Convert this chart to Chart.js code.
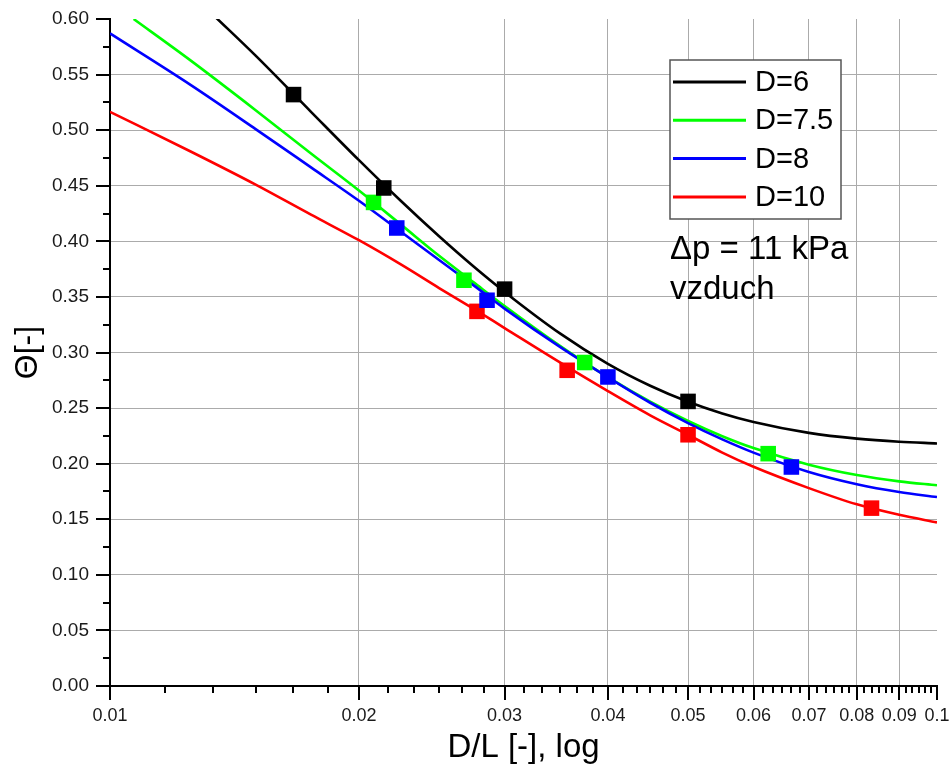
<!DOCTYPE html>
<html>
<head>
<meta charset="utf-8">
<title>Theta vs D/L</title>
<script src="https://cdn.jsdelivr.net/npm/chart.js@4.4.0/dist/chart.umd.min.js"></script>
<style>
  html, body { margin: 0; padding: 0; background: #fff; }
  canvas { display: block; }
</style>
</head>
<body>
<canvas id="chart" width="949" height="778"></canvas>
<script>
'use strict'

var FONT = 'Liberation Sans, Arial, Helvetica, sans-serif';

var seriesLabels = ['D=6', 'D=7.5', 'D=8', 'D=10'];
var seriesColors = ['#000000', '#00ff00', '#0000ff', '#ff0000'];

// measured points (squares)
var d6X = [0.01667, 0.02143, 0.03, 0.05];
var d6Y = [0.532, 0.448, 0.357, 0.256];
var d75X = [0.02083, 0.02679, 0.0375, 0.0625];
var d75Y = [0.435, 0.365, 0.291, 0.209];
var d8X = [0.02222, 0.02857, 0.04, 0.06667];
var d8Y = [0.412, 0.347, 0.278, 0.197];
var d10X = [0.02778, 0.03571, 0.05, 0.08333];
var d10Y = [0.337, 0.284, 0.226, 0.160];

// fitted curves
var fit6X = [0.0134, 0.015, 0.0175, 0.02, 0.0225, 0.025, 0.0275, 0.03, 0.035, 0.04, 0.045, 0.05, 0.055, 0.06, 0.07, 0.08, 0.09, 0.1];
var fit6Y = [0.602, 0.567, 0.5165, 0.473, 0.436, 0.4045, 0.3775, 0.3545, 0.3172, 0.2898, 0.2701, 0.2557, 0.2452, 0.2375, 0.2277, 0.2225, 0.2197, 0.2182];
var fit75X = [0.01068, 0.0125, 0.015, 0.0175, 0.02, 0.0225, 0.025, 0.0275, 0.03, 0.035, 0.04, 0.045, 0.05, 0.055, 0.06, 0.07, 0.08, 0.09, 0.1];
var fit75Y = [0.600, 0.563, 0.518, 0.479, 0.4457, 0.4148, 0.387, 0.3633, 0.3418, 0.306, 0.2778, 0.2557, 0.2384, 0.2247, 0.214, 0.1991, 0.1898, 0.1841, 0.1806];
var fit8X = [0.01, 0.0125, 0.015, 0.0175, 0.02, 0.0225, 0.025, 0.0275, 0.03, 0.035, 0.04, 0.045, 0.05, 0.055, 0.06, 0.07, 0.08, 0.09, 0.1];
var fit8Y = [0.587, 0.541, 0.501, 0.4665, 0.4365, 0.4084, 0.3832, 0.3606, 0.3395, 0.305, 0.2777, 0.2548, 0.2365, 0.2218, 0.2099, 0.1925, 0.1815, 0.1745, 0.170];
var fit10X = [0.01, 0.0125, 0.015, 0.0175, 0.02, 0.0225, 0.025, 0.0275, 0.03, 0.035, 0.04, 0.045, 0.05, 0.055, 0.06, 0.07, 0.08, 0.09, 0.1];
var fit10Y = [0.5165, 0.481, 0.451, 0.424, 0.401, 0.379, 0.358, 0.3395, 0.322, 0.2911, 0.2653, 0.2435, 0.226, 0.210, 0.1972, 0.178, 0.1634, 0.154, 0.1472];

var xTickValues = [0.01, 0.02, 0.03, 0.04, 0.05, 0.06, 0.07, 0.08, 0.09, 0.1];
var xTickLabels = ['0.01', '0.02', '0.03', '0.04', '0.05', '0.06', '0.07', '0.08', '0.09', '0.1'];
var yTickValues = [0, 0.05, 0.1, 0.15, 0.2, 0.25, 0.3, 0.35, 0.4, 0.45, 0.5, 0.55, 0.6];
var yTickLabels = ['0.00', '0.05', '0.10', '0.15', '0.20', '0.25', '0.30', '0.35', '0.40', '0.45', '0.50', '0.55', '0.60'];

var noteLines = ['\u0394p = 11 kPa', 'vzduch'];

function toPoints(xs, ys) {
  var pts = [];
  for (var i = 0; i < xs.length; i++) {
    pts.push({x: xs[i], y: ys[i]});
  }
  return pts;
}

// minor ticks: 5 between majors on x, 1 on y
function withMinors(majors, parts) {
  var all = [];
  for (var i = 0; i < majors.length; i++) {
    all.push(majors[i]);
    if (i < majors.length - 1) {
      for (var j = 1; j < parts; j++) {
        all.push(majors[i] + (majors[i + 1] - majors[i]) * j / parts);
      }
    }
  }
  return all;
}
var xAllTicks = withMinors(xTickValues, 6);
var yAllTicks = withMinors(yTickValues, 2);

function markerSet(xs, ys, color, order) {
  return {
    data: toPoints(xs, ys),
    showLine: false,
    pointStyle: 'rect',
    pointRadius: 11,
    pointHoverRadius: 11,
    backgroundColor: color,
    borderColor: color,
    borderWidth: 0,
    order: order
  };
}

function curveSet(label, xs, ys, color, order) {
  return {
    label: label,
    data: toPoints(xs, ys),
    showLine: true,
    borderColor: color,
    backgroundColor: color,
    borderWidth: 2.6,
    pointRadius: 0,
    cubicInterpolationMode: 'monotone',
    fill: false,
    order: order
  };
}

// tick marks and tick labels on the two axes
var axisTicks = {
  id: 'axisTicks',
  afterDraw: function(chart) {
    var ctx = chart.ctx;
    var xs = chart.scales.x;
    var ys = chart.scales.y;
    var area = chart.chartArea;
    ctx.save();
    ctx.strokeStyle = '#000';
    ctx.lineWidth = 2;
    ctx.beginPath();
    xAllTicks.forEach(function(v) {
      var px = Math.round(xs.getPixelForValue(v));
      var len = xTickValues.indexOf(v) >= 0 ? 14 : 7;
      ctx.moveTo(px, area.bottom);
      ctx.lineTo(px, area.bottom + len);
    });
    yAllTicks.forEach(function(v) {
      var py = Math.round(ys.getPixelForValue(v));
      var len = yTickValues.indexOf(v) >= 0 ? 14 : 7;
      ctx.moveTo(area.left, py);
      ctx.lineTo(area.left - len, py);
    });
    ctx.stroke();

    ctx.fillStyle = '#1a1a1a';
    ctx.textBaseline = 'middle';
    ctx.font = '18px ' + FONT;
    ctx.textAlign = 'center';
    xTickValues.forEach(function(v, i) {
      ctx.fillText(xTickLabels[i], xs.getPixelForValue(v), area.bottom + 30);
    });
    ctx.font = '19px ' + FONT;
    ctx.textAlign = 'right';
    yTickValues.forEach(function(v, i) {
      ctx.fillText(yTickLabels[i], area.left - 21, ys.getPixelForValue(v));
    });
    ctx.restore();
  }
};

// boxed legend plus the note under it
var legendBox = {
  id: 'legendBox',
  afterDraw: function(chart) {
    var ctx = chart.ctx;
    var left = 670, top = 60, w = 171, h = 159;
    ctx.save();
    ctx.fillStyle = '#fff';
    ctx.fillRect(left, top, w, h);
    ctx.strokeStyle = '#555';
    ctx.lineWidth = 1.5;
    ctx.strokeRect(left, top, w, h);
    ctx.font = '29px ' + FONT;
    ctx.textBaseline = 'middle';
    ctx.textAlign = 'left';
    for (var i = 0; i < seriesLabels.length; i++) {
      var y = top + 22 + i * 38.3;
      ctx.strokeStyle = seriesColors[i];
      ctx.lineWidth = 3;
      ctx.beginPath();
      ctx.moveTo(left + 3, y);
      ctx.lineTo(left + 76, y);
      ctx.stroke();
      ctx.fillStyle = '#000';
      ctx.fillText(seriesLabels[i], left + 85, y + 1);
    }
    ctx.font = '33px ' + FONT;
    ctx.fillText(noteLines[0], left, 250);
    ctx.fillText(noteLines[1], left, 290);
    ctx.restore();
  }
};

var datasets = [
  markerSet(d6X, d6Y, seriesColors[0], 0),
  markerSet(d75X, d75Y, seriesColors[1], 1),
  markerSet(d8X, d8Y, seriesColors[2], 2),
  markerSet(d10X, d10Y, seriesColors[3], 3),
  curveSet(seriesLabels[0], fit6X, fit6Y, seriesColors[0], 7),
  curveSet(seriesLabels[1], fit75X, fit75Y, seriesColors[1], 6),
  curveSet(seriesLabels[2], fit8X, fit8Y, seriesColors[2], 5),
  curveSet(seriesLabels[3], fit10X, fit10Y, seriesColors[3], 4)
];

var canvas = document.getElementById('chart');
var ctx = canvas.getContext('2d');

var chart = new Chart(ctx, {
  type: 'scatter',
  data: { datasets: datasets },
  plugins: [axisTicks, legendBox],
  options: {
    responsive: false,
    animation: false,
    layout: { autoPadding: false, padding: { left: 0, right: 12, top: 19, bottom: 0 } },
    plugins: {
      legend: { display: false },
      tooltip: { enabled: false }
    },
    scales: {
      x: {
        type: 'logarithmic',
        min: 0.01,
        max: 0.1,
        afterBuildTicks: function(scale) {
          scale.ticks = xAllTicks.map(function(v) { return {value: v}; });
        },
        afterFit: function(scale) { scale.height = 92; },
        ticks: { display: false },
        grid: {
          drawTicks: false,
          lineWidth: 1,
          color: function(c) {
            var v = c.tick ? c.tick.value : null;
            var i = xTickValues.indexOf(v);
            return (i > 0 && i < xTickValues.length - 1) ? '#ababab' : 'rgba(0,0,0,0)';
          }
        },
        border: { display: true, color: '#000', width: 2 },
        title: {
          display: true,
          text: 'D/L [-], log',
          color: '#000',
          font: { family: FONT, size: 33 },
          padding: { top: 0, bottom: 10 }
        }
      },
      y: {
        min: 0,
        max: 0.6,
        afterBuildTicks: function(scale) {
          scale.ticks = yAllTicks.map(function(v) { return {value: v}; });
        },
        afterFit: function(scale) { scale.width = 110; },
        ticks: { display: false },
        grid: {
          drawTicks: false,
          lineWidth: 1,
          color: function(c) {
            var v = c.tick ? c.tick.value : null;
            var i = yTickValues.indexOf(v);
            return (i > 0 && i < yTickValues.length - 1) ? '#ababab' : 'rgba(0,0,0,0)';
          }
        },
        border: { display: true, color: '#000', width: 2 },
        title: {
          display: true,
          text: '\u0398[-]',
          color: '#000',
          font: { family: FONT, size: 32 },
          padding: { top: 9, bottom: 0 }
        }
      }
    }
  }
});
</script>
</body>
</html>
